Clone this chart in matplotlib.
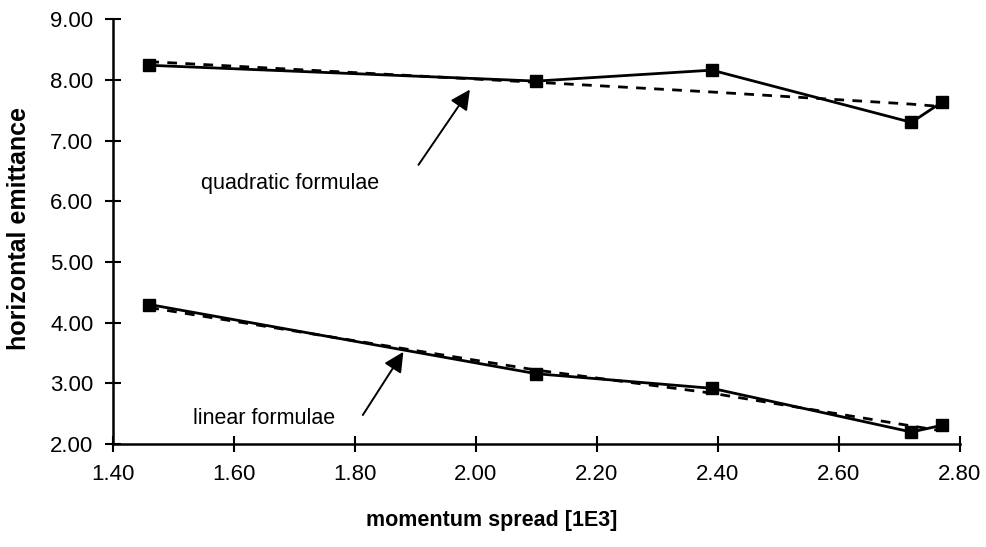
import matplotlib.pyplot as plt

# momentum spread [1E3]
spread = [1.46, 2.10, 2.39, 2.72, 2.77]

# measured horizontal emittance
quad_meas = [8.24, 7.98, 8.16, 7.30, 7.63]
lin_meas = [4.30, 3.16, 2.92, 2.20, 2.31]

# formula results (dashed)
quad_fit = [8.30, 7.96, 7.80, 7.60, 7.56]
lin_fit = [4.25, 3.22, 2.84, 2.30, 2.22]

xticks = [1.40, 1.60, 1.80, 2.00, 2.20, 2.40, 2.60, 2.80]
yticks = [2.00, 3.00, 4.00, 5.00, 6.00, 7.00, 8.00, 9.00]

plt.rcParams['font.family'] = ['Liberation Sans', 'DejaVu Sans']

fig = plt.figure(figsize=(9.87, 5.47), dpi=100)
ax = fig.add_axes([0.1145, 0.188, 0.858, 0.777])

ax.plot(spread, quad_meas, 'k-', lw=2, marker='s', ms=8)
ax.plot(spread, quad_fit, 'k', ls=(0, (3.5, 3)), lw=2)
ax.plot(spread, lin_meas, 'k-', lw=2, marker='s', ms=8)
ax.plot(spread, lin_fit, 'k', ls=(0, (3.5, 3)), lw=2)

arrow = dict(arrowstyle='-|>', color='k', lw=1.4, mutation_scale=30,
             shrinkA=0, shrinkB=0)
ax.text(1.545, 6.3, 'quadratic formulae', fontsize=15.5, va='center')
ax.annotate('', xy=(1.99, 7.84), xytext=(1.905, 6.6), arrowprops=arrow)
ax.text(1.533, 2.43, 'linear formulae', fontsize=15.5, va='center')
ax.annotate('', xy=(1.88, 3.52), xytext=(1.813, 2.48), arrowprops=arrow)

ax.set_xlim(1.40, 2.80)
ax.set_ylim(2.00, 9.00)
ax.set_xticks(xticks)
ax.set_yticks(yticks)
ax.set_xticklabels(['%.2f' % v for v in xticks])
ax.set_yticklabels(['%.2f' % v for v in yticks])
ax.tick_params(direction='inout', length=12, width=1.5, labelsize=16, pad=8)

for s in ['top', 'right']:
    ax.spines[s].set_visible(False)
for s in ['left', 'bottom']:
    ax.spines[s].set_linewidth(1.8)

ax.set_xlabel('momentum spread [1E3]', fontsize=15.5, fontweight='bold')
ax.set_ylabel('horizontal emittance', fontsize=18, fontweight='bold')
ax.xaxis.set_label_coords(0.447, -0.155)
ax.yaxis.set_label_coords(-0.097, 0.508)

fig.savefig('out.png', dpi=100)
